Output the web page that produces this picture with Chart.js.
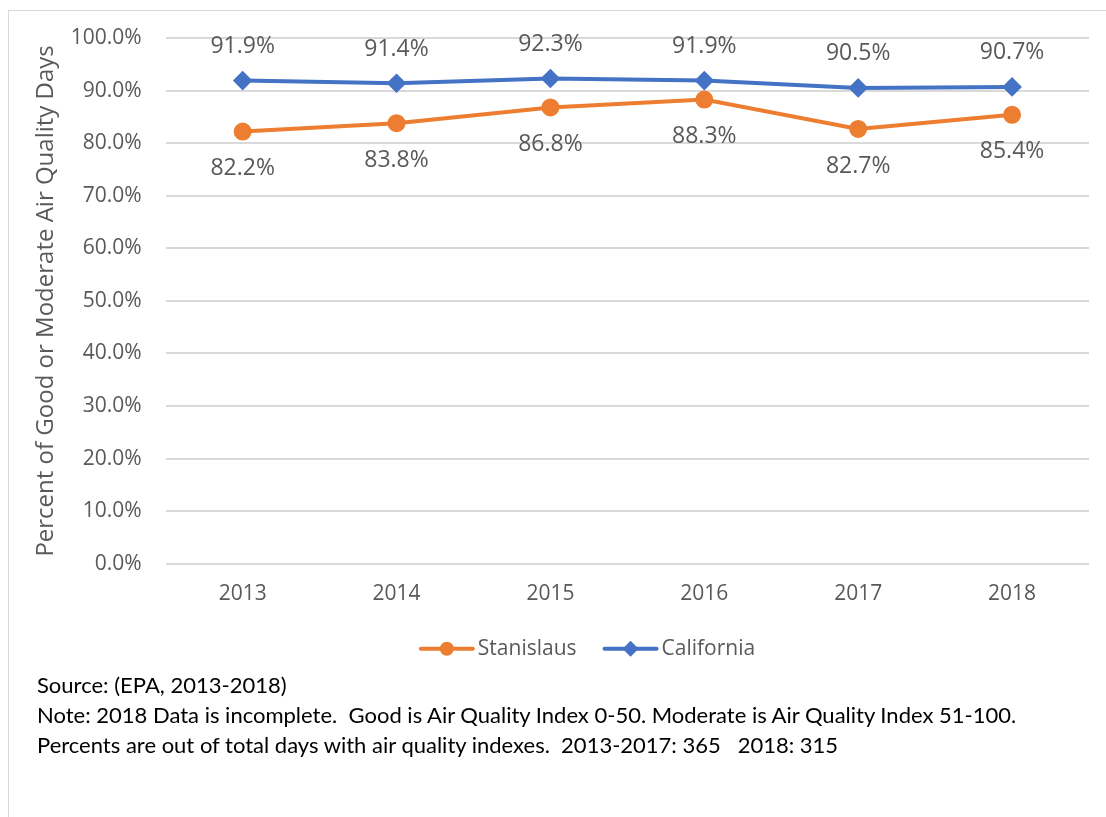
<!DOCTYPE html>
<html>
<head>
<meta charset="utf-8">
<script src="https://cdn.jsdelivr.net/npm/chart.js@4"></script>
<style>
  html, body { margin: 0; padding: 0; background: #fff; }
  #frame { position: absolute; left: 8px; top: 10px; width: 1200px; height: 900px; border: 1px solid #d9d9d9; }
  #wrap { position: absolute; left: 0; top: 0; width: 1106px; height: 680px; }
  #notes { position: absolute; left: 37px; top: 670px; font-family: Lato, sans-serif; font-size: 22px; line-height: 30px; color: #000; white-space: nowrap; }
</style>
</head>
<body>
<div id="frame"></div>
<div id="wrap"><canvas id="aqChart"></canvas></div>
<div id="notes">
  Source: (EPA, 2013-2018)<br>
  Note: 2018 Data is incomplete.&nbsp; Good is Air Quality Index 0-50. Moderate is Air Quality Index 51-100.<br>
  Percents are out of total days with air quality indexes.&nbsp; 2013-2017: 365&nbsp;&nbsp; 2018: 315
</div>
<script>
// data
const years = ['2013', '2014', '2015', '2016', '2017', '2018'];
const stanislaus = [82.2, 83.8, 86.8, 88.3, 82.7, 85.4];
const california = [91.9, 91.4, 92.3, 91.9, 90.5, 90.7];

const ORANGE = '#ed7d31';
const BLUE = '#4472c4';
const GREY = '#595959';
const FONT = "'Open Sans', 'Noto Sans', sans-serif";

// value labels above (California) / below (Stanislaus) each point
const valueLabels = {
  id: 'valueLabels',
  afterDatasetsDraw(chart) {
    const ctx = chart.ctx;
    ctx.save();
    ctx.font = '23px ' + FONT;
    ctx.fillStyle = GREY;
    ctx.textAlign = 'center';
    ctx.textBaseline = 'middle';
    chart.data.datasets.forEach((ds, i) => {
      const meta = chart.getDatasetMeta(i);
      meta.data.forEach((pt, j) => {
        const dy = ds.labelPos === 'above' ? -34 : 37;
        ctx.fillText(ds.data[j].toFixed(1) + '%', pt.x, pt.y + dy);
      });
    });
    ctx.restore();
  }
};

// excel-like legend: line with marker, then name
const lineLegend = {
  id: 'lineLegend',
  afterDraw(chart) {
    const ctx = chart.ctx;
    const sw = 56, gapText = 3, gapItem = 26;
    ctx.save();
    ctx.font = '21px ' + FONT;
    ctx.textBaseline = 'middle';
    const items = chart.data.datasets.map(ds => ({ ds, w: sw + gapText + ctx.measureText(ds.label).width }));
    const total = items.reduce((s, it) => s + it.w, 0) + gapItem * (items.length - 1);
    let x = chart.width / 2 + 34 - total / 2;
    const y = chart.chartArea.bottom + 85;
    items.forEach(it => {
      const c = it.ds.borderColor;
      ctx.strokeStyle = c; ctx.fillStyle = c; ctx.lineWidth = 4; ctx.lineCap = 'round';
      ctx.beginPath(); ctx.moveTo(x + 2, y); ctx.lineTo(x + sw - 2, y); ctx.stroke();
      const mx = x + sw / 2;
      ctx.beginPath();
      if (it.ds.pointStyle === 'circle') {
        ctx.arc(mx, y, 7, 0, Math.PI * 2);
      } else {
        ctx.moveTo(mx, y - 8); ctx.lineTo(mx + 8, y); ctx.lineTo(mx, y + 8); ctx.lineTo(mx - 8, y); ctx.closePath();
      }
      ctx.fill();
      ctx.fillStyle = GREY;
      ctx.fillText(it.ds.label, x + sw + gapText, y);
      x += it.w + gapItem;
    });
    ctx.restore();
  }
};

document.addEventListener('DOMContentLoaded', function() {
  const ctx = document.getElementById('aqChart');
  new Chart(ctx, {
    type: 'line',
    data: {
      labels: years,
      datasets: [{
        label: 'Stanislaus',
        data: stanislaus,
        borderColor: ORANGE,
        backgroundColor: ORANGE,
        borderWidth: 4,
        pointStyle: 'circle',
        pointRadius: 7,
        pointHoverRadius: 7,
        labelPos: 'below'
      }, {
        label: 'California',
        data: california,
        borderColor: BLUE,
        backgroundColor: BLUE,
        borderWidth: 4,
        pointStyle: 'rectRot',
        pointRadius: 7,
        pointHoverRadius: 7,
        labelPos: 'above'
      }]
    },
    options: {
      responsive: true,
      maintainAspectRatio: false,
      animation: false,
      layout: { padding: { top: 38, left: 32, right: 17, bottom: 55 } },
      plugins: {
        tooltip: { enabled: false },
        legend: { display: false }
      },
      scales: {
        x: {
          offset: true,
          grid: { display: false, drawTicks: false },
          border: { display: false },
          ticks: { color: GREY, padding: 18, font: { family: FONT, size: 21 } }
        },
        y: {
          min: 0,
          max: 100,
          grid: { color: '#d9d9d9', lineWidth: 2, drawTicks: false },
          border: { display: false },
          ticks: {
            stepSize: 10,
            color: GREY,
            padding: 24,
            font: { family: FONT, size: 21 },
            callback: v => v.toFixed(1) + '%'
          },
          title: {
            display: true,
            text: 'Percent of Good or Moderate Air Quality Days',
            color: GREY,
            padding: { top: 0, bottom: -14 },
            font: { family: FONT, size: 24 }
          }
        }
      }
    },
    plugins: [valueLabels, lineLegend]
  });
});
</script>
</body>
</html>
